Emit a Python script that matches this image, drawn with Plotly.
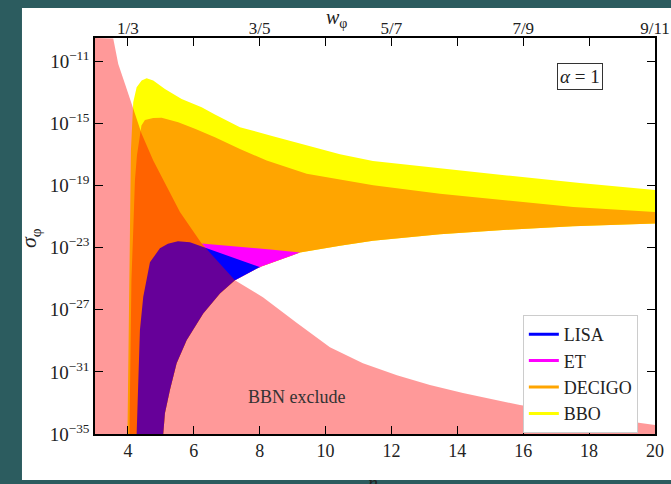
import plotly.graph_objects as go

# ---------------- axis extents ----------------
N_MIN, N_MAX = 3, 20
LOG_MIN, LOG_MAX = -35, -9.5

# ---------------- data (n, log10 sigma_phi) ----------------
# BBN exclusion: steep upper boundary
bbn_upper_n = [3.554, 3.706, 3.909, 4.112, 4.416, 4.768, 5.579, 6.237, 7.248]
bbn_upper_log = [-9.54, -11.17, -12.45, -13.69, -15.67, -17.39, -20.71, -22.74, -25.10]
# BBN exclusion: shallow lower boundary
bbn_lower_n = [7.248, 8.098, 9.131, 10.132, 11.134, 12.166, 13.168, 14.170, 15.202, 15.900, 18.025, 20.0]
bbn_lower_log = [-25.10, -26.19, -27.86, -29.41, -30.44, -31.21, -31.85, -32.36, -32.81, -33.14, -33.84, -34.42]

# common lower edge of the detector regions
edge_n = [5.072, 5.123, 5.275, 5.478, 5.782, 6.286, 6.793, 7.248, 8.007, 9.222, 10.436,
          11.438, 13.472, 15.506, 17.509, 20.0]
edge_log = [-35.0, -33.67, -32.17, -30.45, -28.96, -27.24, -25.95, -25.10, -24.24, -23.32, -22.88,
            -22.56, -22.14, -21.85, -21.63, -21.44]

# upper edges of each detector region
bbo_n = [3.985, 4.030, 4.061, 4.091, 4.161, 4.264, 4.416, 4.568, 4.768, 5.123, 5.630, 6.237,
         6.641, 7.400, 8.402, 9.434, 10.436, 11.438, 13.472, 15.506, 17.722, 20.0]
bbo_log = [-35.0, -28.31, -23.17, -16.74, -13.64, -12.67, -12.24, -12.09, -12.24, -12.78, -13.42, -13.96,
           -14.43, -15.24, -15.82, -16.40, -16.98, -17.42, -17.90, -18.35, -18.83, -19.28]

decigo_n = [4.046, 4.082, 4.106, 4.161, 4.212, 4.273, 4.364, 4.410, 4.516, 4.768, 5.023, 5.527,
            6.034, 6.641, 7.400, 8.211, 9.425, 11.447, 13.472, 15.497, 17.518, 20.0]
decigo_log = [-35.0, -28.31, -25.10, -21.89, -18.67, -17.06, -15.78, -15.14, -14.78, -14.65, -14.64, -14.92,
              -15.35, -15.89, -16.65, -17.39, -18.24, -18.99, -19.53, -19.96, -20.39, -20.71]

et_n = [6.237, 7.603, 8.402, 9.222]
et_log = [-22.74, -22.96, -23.13, -23.32]

lisa_n = [4.264, 4.313, 4.364, 4.464, 4.568, 4.668, 4.971, 5.214, 5.518, 5.882, 6.286, 7.096, 8.038]
lisa_log = [-35.0, -31.53, -28.31, -26.17, -25.10, -23.94, -23.04, -22.75, -22.59, -22.66, -22.96, -23.59, -24.28]

# ticks
x_ticks = [4, 6, 8, 10, 12, 14, 16, 18, 20]
w_tick_n = [4, 8, 12, 16, 20]
w_tick_labels = ["1/3", "3/5", "5/7", "7/9", "9/11"]
y_tick_exp = [-11, -15, -19, -23, -27, -31, -35]

FONT = "Liberation Serif"


def region(up_n, up_log, lo_min=None, lo_max=None):
    """Upper edge followed by the common lower edge traversed backwards."""
    lo = [(n, l) for n, l in zip(edge_n, edge_log)
          if (lo_min is None or n >= lo_min) and (lo_max is None or n < lo_max)]
    lo = lo[::-1]
    xs = list(up_n) + [p[0] for p in lo]
    ls = list(up_log) + [p[1] for p in lo]
    return xs, [10 ** l for l in ls]


fig = go.Figure()

def add_fill(xs, ys, color):
    fig.add_trace(go.Scatter(x=xs, y=ys, fill="toself", fillcolor=color, mode="lines",
                             line=dict(width=0), hoverinfo="skip", showlegend=False))

bx, by = region(bbo_n, bbo_log)
add_fill(bx, by, "#ffff00")
dx, dy = region(decigo_n, decigo_log)
add_fill(dx, dy, "#ffa500")
ex, ey = region(et_n, et_log, lo_min=bbn_upper_n[-1], lo_max=et_n[-1])
add_fill(ex, ey, "#ff00ff")
lx, ly = region(lisa_n, lisa_log, lo_max=lisa_n[-1])
add_fill(lx, ly, "#0000ff")

# BBN excluded region (translucent red on top)
bbn_x = [N_MIN, N_MIN] + bbn_upper_n + bbn_lower_n[1:] + [N_MAX]
bbn_l = [LOG_MIN, LOG_MAX] + bbn_upper_log + bbn_lower_log[1:] + [LOG_MIN]
add_fill(bbn_x, [10 ** l for l in bbn_l], "rgba(255,0,0,0.4)")

# legend entries (lines)
for name, col in [("LISA", "#0000ff"), ("ET", "#ff00ff"), ("DECIGO", "#ffa500"), ("BBO", "#ffff00")]:
    fig.add_trace(go.Scatter(x=[None], y=[None], mode="lines", name=name,
                             line=dict(color=col, width=3)))

# dummy trace for the top axis
fig.add_trace(go.Scatter(x=[None], y=[None], xaxis="x2", showlegend=False, hoverinfo="skip"))

fig.update_layout(
    width=671, height=484,
    margin=dict(l=95, r=16, t=38, b=50),
    paper_bgcolor="#2c5c5f",
    plot_bgcolor="white",
    font=dict(family=FONT, size=18, color="#222"),
    xaxis=dict(range=[N_MIN, N_MAX], tickvals=x_ticks, ticks="inside", ticklen=8, tickwidth=1,
               tickcolor="black", showline=True, linecolor="black", linewidth=1.5, mirror="ticks",
               showgrid=False, zeroline=False, automargin=False,
               tickfont=dict(family=FONT, size=18, color="#222")),
    xaxis2=dict(range=[N_MIN, N_MAX], overlaying="x", side="top", tickvals=w_tick_n,
                ticktext=w_tick_labels, ticks="", showgrid=False, zeroline=False, showline=False,
                automargin=False, tickfont=dict(family=FONT, size=17, color="#222")),
    yaxis=dict(type="log", range=[LOG_MIN, LOG_MAX], tickvals=[10.0 ** e for e in y_tick_exp],
               ticktext=[f"10<sup>−{-e}</sup>" for e in y_tick_exp], ticks="inside", ticklen=8,
               tickwidth=1, tickcolor="black", showline=True, linecolor="black", linewidth=1.5,
               mirror="ticks", showgrid=False, zeroline=False, automargin=False,
               tickfont=dict(family=FONT, size=19, color="#222")),
    legend=dict(x=0.764, y=0.3005, xanchor="left", yanchor="top", bgcolor="white",
                bordercolor="#cccccc", borderwidth=1, font=dict(family=FONT, size=18, color="#222"),
                tracegroupgap=0, itemwidth=30),
    shapes=[dict(type="rect", xref="paper", yref="paper", x0=-0.1304, x1=1.05, y0=-0.116, y1=1.0758,
                 fillcolor="white", line=dict(width=0), layer="below")],
    annotations=[
        dict(text="<i>α</i> = 1", xref="paper", yref="paper", x=0.866, y=0.904, showarrow=False,
             xanchor="center", yanchor="middle",
             bordercolor="#333", borderwidth=1, borderpad=2, bgcolor="white",
             font=dict(family=FONT, size=19, color="#222")),
        dict(text="BBN exclude", xref="x", yref="y", x=9.13, y=-32.6, showarrow=False,
             xanchor="center", yanchor="middle",
             font=dict(family=FONT, size=18, color="#333")),
        dict(text="<i>w</i><sub>φ</sub>", xref="paper", yref="paper", x=0.432, y=1.05, showarrow=False,
             xanchor="center", yanchor="middle",
             font=dict(family=FONT, size=20, color="#222")),
        dict(text="<i>σ</i><sub>φ</sub>", xref="paper", yref="paper", x=-0.116, y=0.495, showarrow=False,
             xanchor="center", yanchor="middle",
             textangle=-90, font=dict(family=FONT, size=22, color="#222")),
        dict(text="<i>n</i>", xref="paper", yref="paper", x=0.496, y=-0.09, yanchor="top",
             xanchor="center", showarrow=False, font=dict(family=FONT, size=20, color="#222")),
    ],
)

fig.write_html("out.html")
